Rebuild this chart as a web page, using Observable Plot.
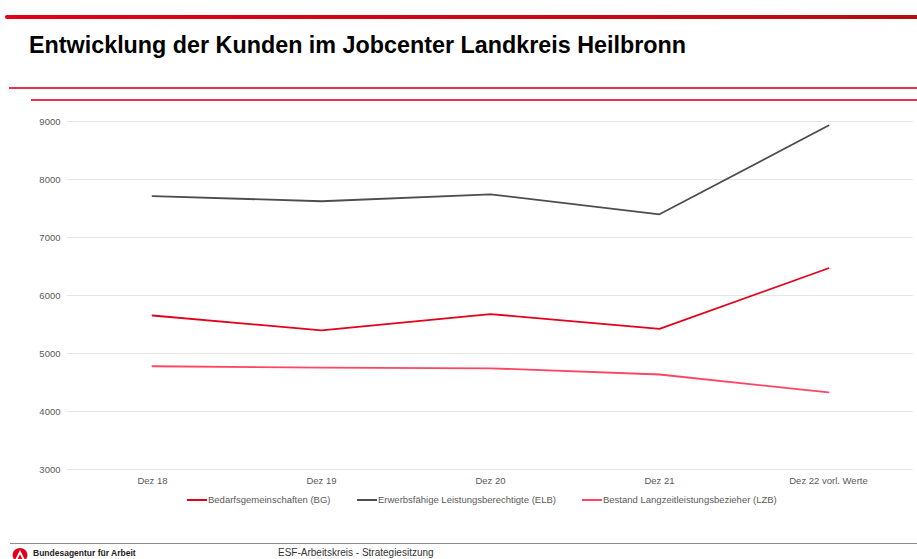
<!DOCTYPE html>
<html>
<head>
<meta charset="utf-8">
<script src="https://cdn.jsdelivr.net/npm/d3@7"></script>
<script src="https://cdn.jsdelivr.net/npm/@observablehq/plot@0.6"></script>
<style>
  html, body { margin: 0; padding: 0; background: #fff; }
  body { width: 917px; height: 559px; position: relative; overflow: hidden; font-family: "Liberation Sans", Arial, sans-serif; }
  .abs { position: absolute; }
  #topbar { left: 5px; top: 15px; width: 912px; height: 4px; background: linear-gradient(to right, #e2001a, #b50f12); border-radius: 2px 0 0 2px; }
  #title { left: 29px; top: 32px; font-size: 23px; font-weight: bold; color: #000; white-space: nowrap; transform-origin: left top; }
  #rule1 { left: 9px; top: 87px; width: 908px; height: 1.5px; background: #e8324a; }
  #rule2 { left: 31px; top: 99px; width: 886px; height: 1.5px; background: #e8324a; }
  #chart { left: 0; top: 100px; }
  #legend { left: 0; top: 494px; width: 917px; font-size: 9.5px; color: #595959; }
  .item { position: absolute; top: 0; display: flex; align-items: center; white-space: nowrap; }
  .sw { display: inline-block; width: 20px; height: 2px; margin-right: 1px; }
  #footrule { left: 10px; top: 543px; width: 907px; height: 1px; background: #8c8c8c; }
  #logo { left: 12px; top: 547px; }
  #org { left: 33px; top: 548px; font-size: 8.5px; font-weight: bold; color: #222; }
  #foot { left: 278px; top: 547px; font-size: 10px; color: #333; }
</style>
</head>
<body>
<div id="topbar" class="abs"></div>
<div id="title" class="abs">Entwicklung der Kunden im Jobcenter Landkreis Heilbronn</div>
<div id="rule1" class="abs"></div>
<div id="rule2" class="abs"></div>
<div id="chart" class="abs"></div>
<div id="legend" class="abs"></div>
<div id="footrule" class="abs"></div>
<svg id="logo" class="abs" width="16" height="14" viewBox="0 0 16 14">
  <ellipse cx="8" cy="8" rx="7.5" ry="7" fill="#e2001a"/>
  <path d="M8 3 L12.5 12 L10.3 12 L8 7.2 L5.7 12 L3.5 12 Z" fill="#fff"/>
</svg>
<div id="org" class="abs">Bundesagentur für Arbeit</div>
<div id="foot" class="abs">ESF-Arbeitskreis - Strategiesitzung</div>
<script>
const categories = ["Dez 18", "Dez 19", "Dez 20", "Dez 21", "Dez 22 vorl. Werte"];
const seriesNames = ["Bedarfsgemeinschaften (BG)", "Erwerbsfähige Leistungsberechtigte (ELB)", "Bestand Langzeitleistungsbezieher (LZB)"];
const bgValues  = [5655, 5400, 5680, 5425, 6470];
const elbValues = [7715, 7625, 7745, 7400, 8930];
const lzbValues = [4780, 4755, 4745, 4638, 4328];
const seriesColors = ["#e2001a", "#4d4d4d", "#ff4563"];
const yTicks = [3000, 4000, 5000, 6000, 7000, 8000, 9000];

const allValues = [bgValues, elbValues, lzbValues];
const data = [];
seriesNames.forEach((s, i) => categories.forEach((c, j) => data.push({series: s, cat: c, value: allValues[i][j]})));

const plot = Plot.plot({
  width: 917,
  height: 395,
  marginTop: 21,
  marginBottom: 26,
  marginLeft: 67,
  marginRight: 4,
  style: { fontFamily: "Liberation Sans, Arial, sans-serif", fontSize: "9.5px", color: "#595959", background: "transparent" },
  x: { type: "point", domain: categories, padding: 0.5, label: null },
  y: { domain: [3000, 9000], ticks: yTicks, label: null },
  color: { domain: seriesNames, range: seriesColors },
  marks: [
    Plot.gridY(yTicks, { stroke: "#e6e6e6", strokeOpacity: 1, strokeWidth: 1 }),
    Plot.axisY(yTicks, { tickSize: 0, tickPadding: 7, tickFormat: d => String(d), fill: "#595959", label: null }),
    Plot.axisX({ tickSize: 0, tickPadding: 8, fill: "#595959", label: null }),
    Plot.line(data, { x: "cat", y: "value", z: "series", stroke: "series", strokeWidth: 1.8, curve: "linear" })
  ]
});
document.getElementById("chart").appendChild(plot);

const legendX = [187, 357, 582];
const leg = document.getElementById("legend");
seriesNames.forEach((s, i) => {
  const item = document.createElement("div");
  item.className = "item";
  item.style.left = legendX[i] + "px";
  const sw = document.createElement("span");
  sw.className = "sw";
  sw.style.background = seriesColors[i];
  const t = document.createElement("span");
  t.textContent = s;
  item.appendChild(sw);
  item.appendChild(t);
  leg.appendChild(item);
});

// fit title width to reference
const title = document.getElementById("title");
const w = title.getBoundingClientRect().width;
title.style.transform = `scaleX(${657 / w})`;
</script>
</body>
</html>
